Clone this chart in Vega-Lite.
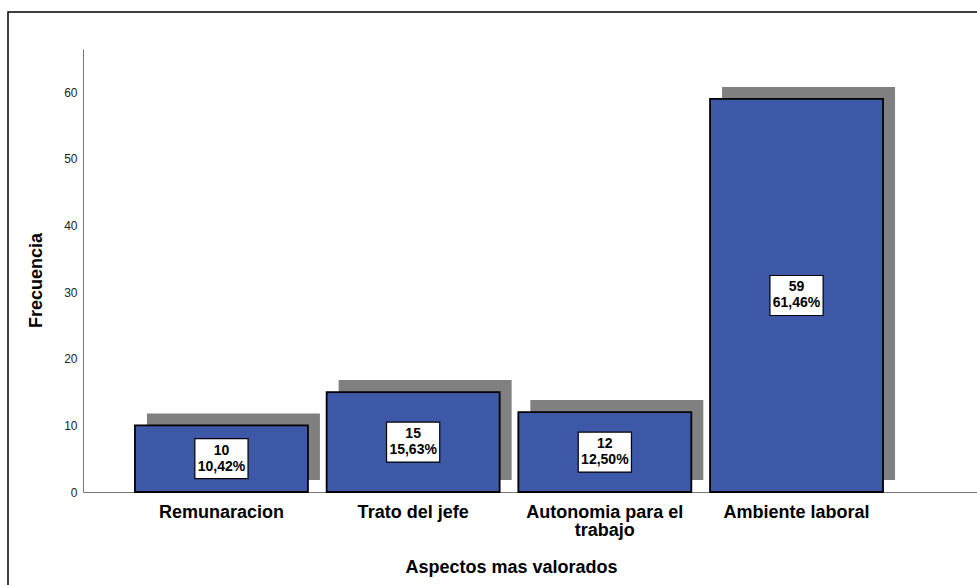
{
  "$schema": "https://vega.github.io/schema/vega-lite/v6.json",
  "width": 975,
  "height": 580,
  "autosize": {"type": "none"},
  "padding": {"left": 8, "top": 12, "right": -6, "bottom": -7},
  "background": "white",
  "config": {
    "font": "Liberation Sans",
    "view": {"stroke": "black", "strokeWidth": 1.5}
  },
  "data": {
    "values": [
      {"aspecto": "Remunaracion", "frecuencia": 10, "porcentaje": "10,42%"},
      {"aspecto": "Trato del jefe", "frecuencia": 15, "porcentaje": "15,63%"},
      {"aspecto": "Autonomia para el trabajo", "frecuencia": 12, "porcentaje": "12,50%"},
      {"aspecto": "Ambiente laboral", "frecuencia": 59, "porcentaje": "61,46%"}
    ]
  },
  "encoding": {
    "x": {
      "field": "aspecto",
      "type": "nominal",
      "sort": null,
      "scale": {"range": [75, 969], "paddingInner": 0.0976, "paddingOuter": 0.3806, "align": 0.356},
      "axis": {
        "title": "Aspectos mas valorados",
        "orient": "bottom",
        "offset": -100,
        "ticks": false,
        "grid": false,
        "labelAngle": 0,
        "labelPadding": 11,
        "labelFontSize": 18,
        "labelFontWeight": "bold",
        "labelColor": "black",
        "labelLineHeight": 18.5,
        "labelLimit": 0,
        "labelExpr": "datum.label == 'Autonomia para el trabajo' ? ['Autonomia para el', 'trabajo'] : datum.label",
        "domainColor": "#777777",
        "domainWidth": 1,
        "titleFontSize": 18,
        "titleFontWeight": "bold",
        "titleColor": "black",
        "titleX": 503,
        "titleY": 80,
        "titleAlign": "center",
        "titleBaseline": "alphabetic"
      }
    }
  },
  "layer": [
    {
      "encoding": {
        "y": {
          "field": "frecuencia",
          "type": "quantitative",
          "scale": {"domain": [0, 66.5], "range": [480, 37], "nice": false},
          "axis": {
            "title": "Frecuencia",
            "offset": -75,
            "values": [0, 10, 20, 30, 40, 50, 60],
            "grid": false,
            "ticks": false,
            "labelPadding": 6,
            "labelFontSize": 12,
            "labelColor": "#222222",
            "domainColor": "#777777",
            "domainWidth": 1,
            "titleFontSize": 18,
            "titleFontWeight": "bold",
            "titleColor": "black",
            "titleAngle": -90,
            "titleX": -47,
            "titleY": 268,
            "titleAlign": "center",
            "titleBaseline": "middle"
          }
        }
      },
      "layer": [
        {"mark": {"type": "bar", "fill": "#808080", "xOffset": 12, "yOffset": -12, "y2Offset": -12}},
        {"mark": {"type": "bar", "fill": "#3E58A8", "stroke": "black", "strokeWidth": 1.8}}
      ]
    },
    {
      "encoding": {
        "y": {
          "field": "frecuencia",
          "type": "quantitative",
          "scale": {"domain": [0, 133], "range": [480, 37], "nice": false},
          "axis": null
        }
      },
      "layer": [
        {
          "mark": {
            "type": "point",
            "shape": "M-1.33,-1H1.33V1H-1.33Z",
            "size": 1600,
            "filled": true,
            "fill": "white",
            "opacity": 1,
            "stroke": "black",
            "strokeWidth": 1.2
          }
        },
        {
          "mark": {"type": "text", "fontSize": 14, "fontWeight": "bold", "color": "black", "baseline": "middle", "dy": -8},
          "encoding": {"text": {"field": "frecuencia", "type": "quantitative"}}
        },
        {
          "mark": {"type": "text", "fontSize": 14, "fontWeight": "bold", "color": "black", "baseline": "middle", "dy": 8},
          "encoding": {"text": {"field": "porcentaje", "type": "nominal"}}
        }
      ]
    }
  ],
  "resolve": {"scale": {"y": "independent"}}
}
